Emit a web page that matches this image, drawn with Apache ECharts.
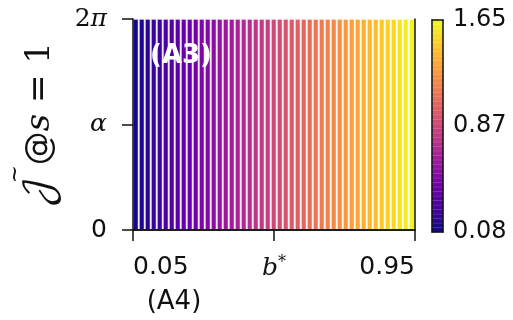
<!DOCTYPE html>
<html>
<head>
<meta charset="utf-8">
<script src="https://cdn.jsdelivr.net/npm/echarts@6/dist/echarts.min.js"></script>
<style>
html,body{margin:0;padding:0;background:#fff;}
#chart{width:513px;height:320px;}
</style>
</head>
<body>
<div id="chart"></div>
<script>
// level of each vertical contour band, left to right (b* from 0.05 to 0.95)
var bandLevels = [0.10, 0.13, 0.17, 0.20, 0.23, 0.27, 0.30, 0.33, 0.37, 0.40,
  0.43, 0.47, 0.50, 0.53, 0.57, 0.60, 0.63, 0.67, 0.70, 0.73,
  0.77, 0.80, 0.83, 0.87, 0.90, 0.93, 0.97, 1.00, 1.03, 1.07,
  1.10, 1.13, 1.17, 1.20, 1.23, 1.27, 1.30, 1.33, 1.37, 1.40,
  1.43, 1.47, 1.50, 1.53, 1.57, 1.60, 1.63];
var xTicks = [0.05, 0.5, 0.95];
var xTickLabels = ['0.05', '{it|b}{sup|*}', '0.95'];
var yTicks = [0, 1, 2];
var yTickLabels = ['0', '{it|α}', '{rm|2}{it|π}'];
var cbTicks = [0.08, 0.865, 1.65];
var cbTickLabels = ['0.08', '0.87', '1.65'];

var plasma = ['#0d0887', '#46039f', '#7201a8', '#9c179e', '#bd3786',
  '#d8576b', '#ed7953', '#fb9f3a', '#fdca26', '#f0f921'];

var chart = echarts.init(document.getElementById('chart'));

var bandData = [];
var cbData = [];
var bandCats = [];
for (var i = 0; i < bandLevels.length; i++) {
  bandCats.push(String(i));
  bandData.push([i, 0, bandLevels[i]]);
  cbData.push([0, i, bandLevels[i]]);
}

var lab = {color: '#111', fontFamily: 'DejaVu Sans', fontSize: 25};
var rich = {
  it: {fontFamily: 'DejaVu Serif', fontStyle: 'italic', fontSize: 25, color: '#111'},
  rm: {fontFamily: 'DejaVu Serif', fontSize: 25, color: '#111'},
  sup: {fontFamily: 'DejaVu Serif', fontSize: 16, color: '#111', verticalAlign: 'top', padding: [0, 0, 10, 0]}
};
var blackLine = {show: true, lineStyle: {color: '#111', width: 1.5}};
var frameAxis = function (extra) {
  return Object.assign({
    axisLine: blackLine, axisTick: {show: false}, axisLabel: {show: false},
    splitLine: {show: false}, z: 10
  }, extra);
};

chart.setOption({
  animation: false,
  grid: [
    {left: 133, right: 98, top: 19, bottom: 90},
    {left: 432, width: 11, top: 20, bottom: 88}
  ],
  xAxis: [
    frameAxis({type: 'category', gridIndex: 0, position: 'top', data: bandCats}),
    {
      type: 'value', gridIndex: 0, position: 'bottom', min: 0.05, max: 0.95, z: 10,
      axisLine: blackLine, splitLine: {show: false},
      axisTick: {customValues: xTicks, length: 11, lineStyle: {color: '#111', width: 1.5}},
      axisLabel: Object.assign({
        customValues: xTicks, margin: 25, rich: rich,
        alignMinLabel: 'left', alignMaxLabel: 'right',
        formatter: function (v) { return xTickLabels[xTicks.indexOf(v)]; }
      }, lab)
    },
    frameAxis({type: 'category', gridIndex: 1, position: 'bottom', data: ['c']}),
    frameAxis({type: 'category', gridIndex: 1, position: 'top', data: ['c']})
  ],
  yAxis: [
    frameAxis({type: 'category', gridIndex: 0, position: 'right', data: ['r']}),
    {
      type: 'value', gridIndex: 0, position: 'left', min: 0, max: 2, z: 10,
      axisLine: blackLine, splitLine: {show: false},
      axisTick: {customValues: yTicks, length: 11, lineStyle: {color: '#111', width: 1.5}},
      axisLabel: Object.assign({
        customValues: yTicks, margin: 26, rich: rich,
        formatter: function (v) { return yTickLabels[yTicks.indexOf(v)]; }
      }, lab)
    },
    frameAxis({type: 'category', gridIndex: 1, position: 'left', data: bandCats}),
    {
      type: 'value', gridIndex: 1, position: 'right', min: 0.08, max: 1.65, z: 10,
      axisLine: blackLine, splitLine: {show: false},
      axisTick: {customValues: cbTicks, length: 7, lineStyle: {color: '#111', width: 1.5}},
      axisLabel: Object.assign({
        customValues: cbTicks, margin: 10,
        formatter: function (v) { return cbTickLabels[cbTicks.indexOf(v)]; }
      }, lab, {fontSize: 24})
    }
  ],
  visualMap: {
    show: false, type: 'continuous', min: 0.08, max: 1.65, dimension: 2,
    seriesIndex: [0, 1], inRange: {color: plasma}
  },
  series: [
    {
      type: 'heatmap', xAxisIndex: 0, yAxisIndex: 0, data: bandData,
      itemStyle: {borderColor: 'rgba(255,255,255,0.85)', borderWidth: 2}
    },
    {
      type: 'heatmap', xAxisIndex: 2, yAxisIndex: 2, data: cbData,
      itemStyle: {borderColor: 'rgba(255,255,255,0.25)', borderWidth: 0.5}
    }
  ],
  graphic: [
    {
      type: 'text', left: 150, top: 43, z: 20,
      style: {text: '(A3)', fill: '#fff', font: 'bold 26px "DejaVu Sans"'}
    },
    {
      type: 'text', x: 174, y: 302, z: 20,
      style: {text: '(A4)', fill: '#111', font: '26px "DejaVu Sans"', align: 'center', verticalAlign: 'middle'}
    },
    {
      type: 'text', x: 40, y: 125, rotation: Math.PI / 2, z: 20,
      style: {
        text: '{j|𝒥 }{r|@}{s|s }{r|= }{n|1}', align: 'center', verticalAlign: 'middle',
        rich: {
          j: {fontFamily: '"DejaVu Math TeX Gyre", "DejaVu Serif", "Noto Sans"', fontSize: 38, fill: '#111'},
          r: {fontFamily: 'DejaVu Sans', fontSize: 34, fill: '#111'},
          n: {fontFamily: 'DejaVu Serif', fontSize: 34, fill: '#111'},
          s: {fontFamily: 'DejaVu Serif', fontStyle: 'italic', fontSize: 34, fill: '#111'}
        }
      }
    },
    {
      type: 'text', x: 15, y: 174, rotation: Math.PI / 2, z: 20,
      style: {text: '~', fill: '#111', font: '22px "DejaVu Serif"', align: 'center', verticalAlign: 'middle'}
    }
  ]
});
</script>
</body>
</html>
